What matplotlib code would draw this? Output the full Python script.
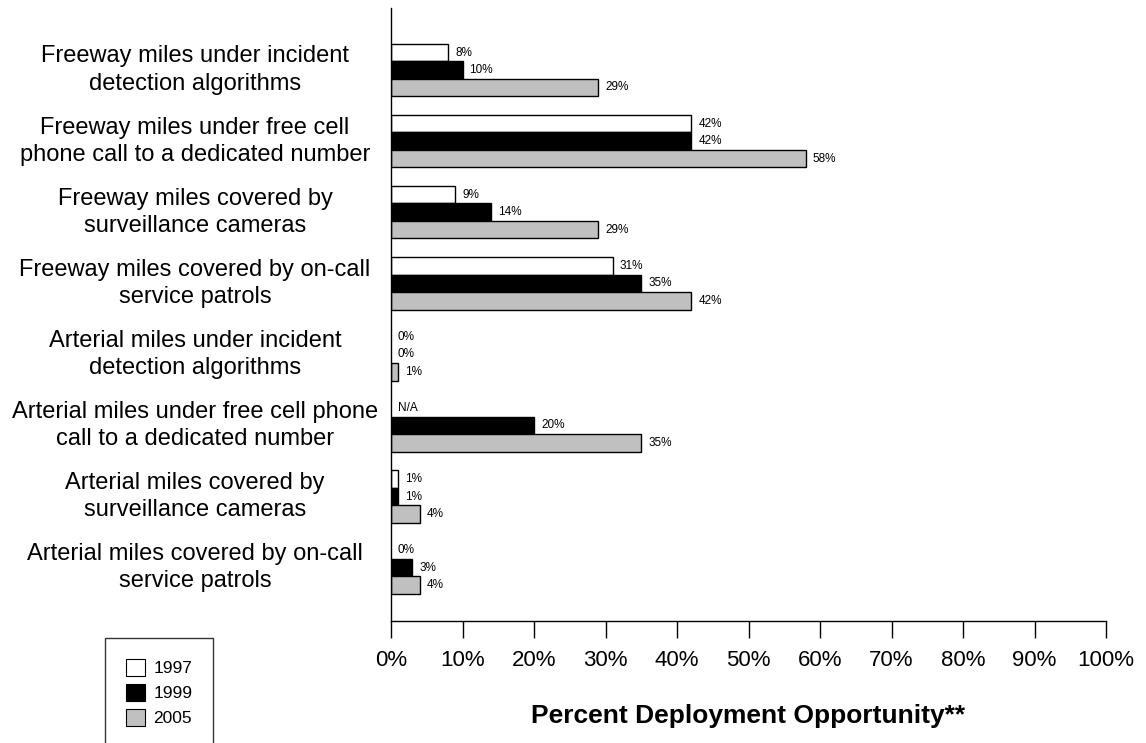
import numpy as np
import matplotlib
matplotlib.use("Agg")
import matplotlib.pyplot as plt
import matplotlib.patches as mpatches

plt.rcParams["font.family"] = ["Liberation Sans", "DejaVu Sans"]

CATEGORIES = [
    "Freeway miles under incident\ndetection algorithms",
    "Freeway miles under free cell\nphone call to a dedicated number",
    "Freeway miles covered by\nsurveillance cameras",
    "Freeway miles covered by on-call\nservice patrols",
    "Arterial miles under incident\ndetection algorithms",
    "Arterial miles under free cell phone\ncall to a dedicated number",
    "Arterial miles covered by\nsurveillance cameras",
    "Arterial miles covered by on-call\nservice patrols",
]
YEARS = ["1997", "1999", "2005"]
V1997 = [8, 42, 9, 31, 0, None, 1, 0]
V1999 = [10, 42, 14, 35, 0, 20, 1, 3]
V2005 = [29, 58, 29, 42, 1, 35, 4, 4]
COLORS = ["white", "black", "#C0C0C0"]
XTICKS = [0, 10, 20, 30, 40, 50, 60, 70, 80, 90, 100]

fig = plt.figure(figsize=(11.46, 7.43), dpi=100)
ax = fig.add_axes([391 / 1146, 1 - 621 / 743, 715 / 1146, 613 / 743])

y = np.arange(len(CATEGORIES))
h = 0.246
for k, (vals, col) in enumerate(zip([V1997, V1999, V2005], COLORS)):
    yy = y + (k - 1) * h
    for yi, v in zip(yy, vals):
        if v is None:
            ax.annotate("N/A", (0, yi), xytext=(5, 0), textcoords="offset points",
                        ha="left", va="center", fontsize=8.5)
            continue
        if v > 0:
            ax.barh(yi, v, height=h, color=col, edgecolor="black", linewidth=1)
        ax.annotate(f"{v}%", (v, yi), xytext=(5, 0), textcoords="offset points",
                    ha="left", va="center", fontsize=8.5)

for yi, lab in zip(y, CATEGORIES):
    ax.text((195 - 391) / 715, yi, lab, transform=ax.get_yaxis_transform(),
            ha="center", va="center", fontsize=17, linespacing=1.3)

ax.set_xlim(0, 100)
ax.set_ylim(7.75, -0.872)
ax.set_xticks(XTICKS)
ax.set_xticklabels([f"{t}%" for t in XTICKS], fontsize=16)
ax.set_yticks([])
ax.tick_params(axis="x", direction="out", length=12, width=1, pad=9)
for s in ["top", "right"]:
    ax.spines[s].set_visible(False)
ax.spines["left"].set_linewidth(1)
ax.spines["bottom"].set_linewidth(1)
ax.set_xlabel("Percent Deployment Opportunity**", fontsize=19, fontweight="bold",
              labelpad=24)

handles = [mpatches.Patch(facecolor=c, edgecolor="black", linewidth=0.8, label=l)
           for c, l in zip(COLORS, YEARS)]
leg = fig.legend(handles=handles, loc="upper left",
                 bbox_to_anchor=(105 / 1146, 1 - 638 / 743), fontsize=12.5,
                 frameon=True, fancybox=False, edgecolor="black",
                 handlelength=1.1, handleheight=1.1, handletextpad=0.5,
                 borderpad=1.2, labelspacing=0.45, borderaxespad=0)
leg.get_frame().set_linewidth(1)

fig.savefig("out.png", dpi=100)
